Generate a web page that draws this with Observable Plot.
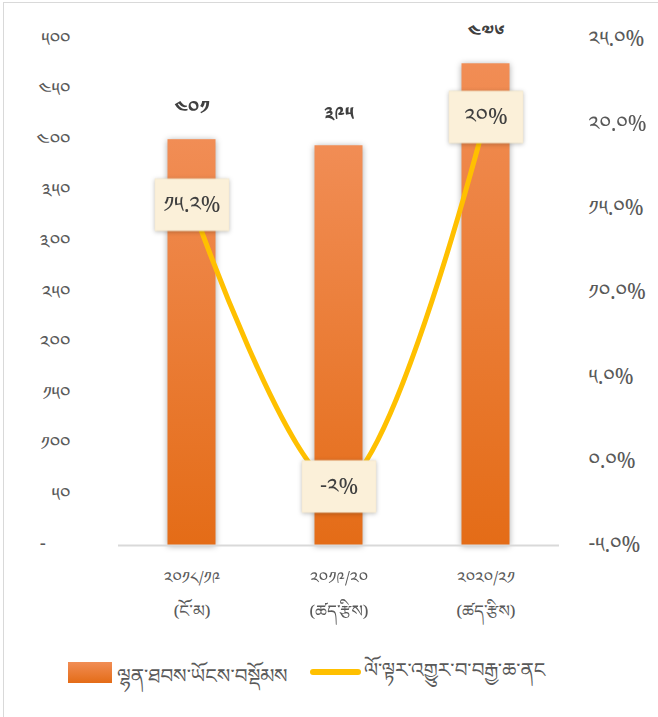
<!DOCTYPE html>
<html><head><meta charset="utf-8">
<script src="https://cdn.jsdelivr.net/npm/d3@7"></script>
<script src="https://cdn.jsdelivr.net/npm/@observablehq/plot@0.6"></script>
<style>
html,body{margin:0;padding:0;background:#fff;overflow:hidden;width:658px;height:717px}
#frame{position:absolute;left:3px;top:2px;width:700px;height:800px;border:1px solid #d9d9d9;pointer-events:none}
#chart{position:absolute;left:0;top:0}
.leg{position:absolute;font-size:20px;color:#595959;white-space:nowrap}
</style></head>
<body>
<div id="chart"></div>
<div id="legend"></div>
<div id="frame"></div>
<script>
const FONT = '"Noto Serif Tibetan","Noto Sans Tibetan","Jomolhari","Microsoft Himalaya","DejaVu Sans",sans-serif';

// ---- data ----
const years = ["༢༠༡༨/༡༩", "༢༠༡༩/༢༠", "༢༠༢༠/༢༡"];
const status = ["(ངོ་མ)", "(ཚད་རྩིས)", "(ཚད་རྩིས)"];
const amount = [401, 395, 476];
const growth = [15.2, -1.5, 20.4];
const growthLabels = ["༡༥.༢%", "-༢%", "༢༠%"];
const leftTicks = [0, 50, 100, 150, 200, 250, 300, 350, 400, 450, 500];
const rightTicks = [-5, 0, 5, 10, 15, 20, 25];
const seriesNames = ["ལྷན་ཐབས་ཡོངས་བསྡོམས", "ལོ་ལྟར་འགྱུར་བ་བརྒྱ་ཆ་ནང"];

// ---- helpers ----
const tib = s => String(s).replace(/[0-9]/g, d => String.fromCharCode(0x0F20 + +d));
const gLo = rightTicks[0], gHi = rightTicks[rightTicks.length - 1], yMax = leftTicks[leftTicks.length - 1];
const g2y = g => (g - gLo) / (gHi - gLo) * yMax;
const y2g = v => v / yMax * (gHi - gLo) + gLo;

const data = years.map((yr, i) => ({
  cat: yr,
  amount: amount[i],
  gy: g2y(growth[i]),
  gl: growthLabels[i]
}));
const statusOf = Object.fromEntries(years.map((y, i) => [y, status[i]]));

const boxSymbol = {draw(ctx) { ctx.rect(-37, -26, 74, 52); }};

const chart = Plot.plot({
  width: 658, height: 640,
  marginLeft: 118, marginRight: 99, marginTop: 39, marginBottom: 95,
  style: {fontFamily: FONT, background: "transparent", overflow: "visible"},
  x: {domain: years, padding: 0},
  y: {domain: [0, yMax]},
  marks: [
    Plot.barY(data, {x: "cat", y: "amount", fill: "url(#barGrad)", insetLeft: 49.5, insetRight: 49.5, className: "bars"}),
    Plot.ruleY([0], {stroke: "#d9d9d9", strokeWidth: 2}),
    Plot.line(data, {x: "cat", y: "gy", stroke: "#FFC000", strokeWidth: 5, curve: "catmull-rom"}),
    Plot.dot(data, {x: "cat", y: "gy", symbol: boxSymbol, r: 1, fill: "#FBF0D9", stroke: "#f3e6c8", strokeWidth: 0.5, className: "boxes"}),
    Plot.text(data, {x: "cat", y: "gy", text: "gl", fontSize: 22, fill: "#404040"}),
    Plot.text(data, {x: "cat", y: "amount", text: d => tib(d.amount), dy: -32, fontSize: 19, fontWeight: "bold", fill: "#404040"}),
    Plot.axisY(leftTicks, {anchor: "left", tickSize: 0, tickPadding: 48, label: null, fontSize: 19, color: "#595959",
      tickFormat: v => v === 0 ? "-\u00a0\u00a0\u00a0\u00a0\u00a0" : tib(v)}),
    Plot.axisY(rightTicks.map(g2y), {anchor: "right", tickSize: 0, tickPadding: 29, label: null, fontSize: 21, color: "#595959",
      tickFormat: v => tib((Math.round(y2g(v) * 10) / 10 + 0).toFixed(1)) + "%"}),
    Plot.axisX({tickSize: 0, tickPadding: 33, label: null, fontSize: 17, color: "#595959", lineAnchor: "middle"}),
    Plot.axisX({tickSize: 0, tickPadding: 66, label: null, fontSize: 17, color: "#595959", lineAnchor: "middle",
      tickFormat: d => statusOf[d]})
  ]
});

const svg = d3.select(chart);
const defs = svg.insert("defs", ":first-child");
const grad = defs.append("linearGradient").attr("id", "barGrad").attr("x1", 0).attr("x2", 0).attr("y1", 0).attr("y2", 1);
grad.append("stop").attr("offset", "0%").attr("stop-color", "#F18D55");
grad.append("stop").attr("offset", "100%").attr("stop-color", "#E46C17");
svg.selectAll(".bars").style("filter", "drop-shadow(0px 1px 3px rgba(0,0,0,0.35))");
svg.selectAll(".boxes").style("filter", "drop-shadow(0px 1px 2px rgba(0,0,0,0.25))");
document.getElementById("chart").appendChild(chart);

// ---- legend ----
const leg = document.getElementById("legend");
leg.style.fontFamily = FONT;
leg.innerHTML =
  `<div style="position:absolute;left:68px;top:662px;width:44px;height:21px;background:linear-gradient(#F18D55,#E46C17)"></div>` +
  `<div class="leg" style="left:117px;top:654px">${seriesNames[0]}</div>` +
  `<div style="position:absolute;left:310px;top:669px;width:51px;height:6px;border-radius:3px;background:#FFC000"></div>` +
  `<div class="leg" style="left:364px;top:648px">${seriesNames[1]}</div>`;
</script>
</body></html>
